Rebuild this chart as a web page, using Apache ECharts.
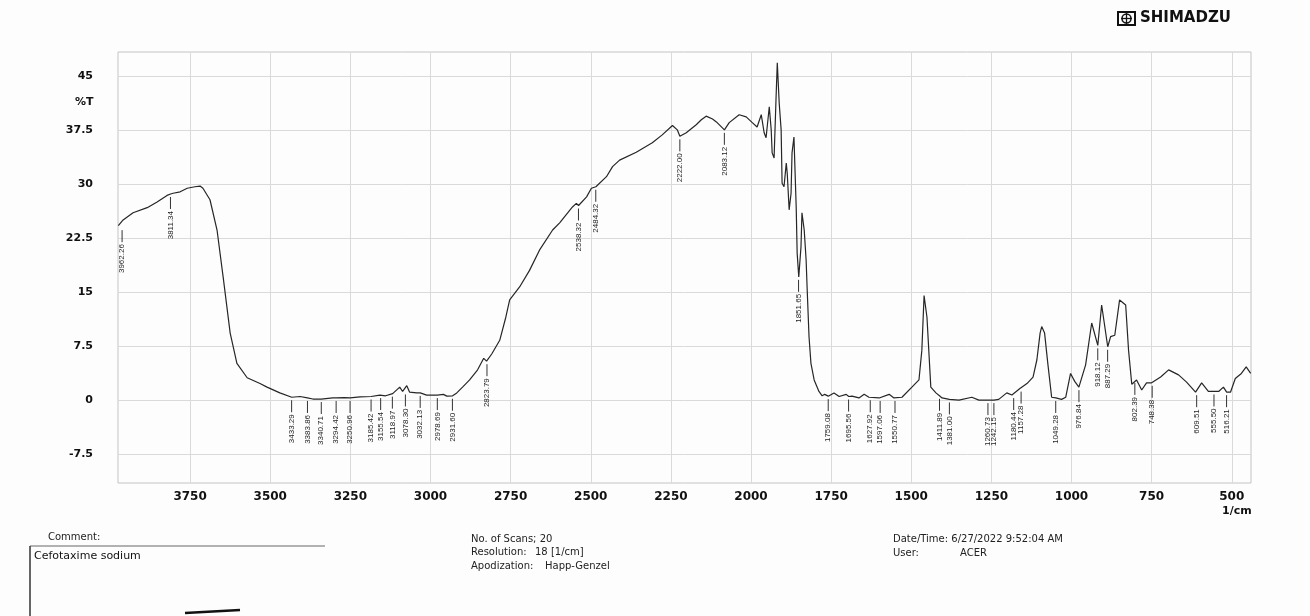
<!DOCTYPE html>
<html lang="en" style="height: 100%">
<head>
    <meta charset="UTF-8">
    <script src="https://cdn.jsdelivr.net/npm/echarts@6/dist/echarts.min.js"></script>
</head>
<body style="height: 100%; margin: 0; background: #fdfdfd">
<div id="container" style="width: 1310px; height: 616px"></div>
<script>
// spectrum (1/cm, %T)
var wavenumber = [3974, 3968, 3959, 3928, 3884, 3853, 3822, 3811, 3803, 3781, 3759, 3735, 3719, 3710, 3688, 3666, 3647, 3625, 3604, 3572,
    3532, 3510, 3470, 3433, 3407, 3384, 3367, 3341, 3305, 3294, 3270, 3251, 3220, 3185, 3158, 3140, 3118, 3096, 3087, 3074,
    3065, 3043, 3032, 3012, 2979, 2960, 2949, 2931, 2918, 2900, 2878, 2853, 2834, 2825, 2809, 2784, 2765, 2753, 2722, 2691,
    2660, 2619, 2597, 2557, 2545, 2538, 2513, 2498, 2484, 2451, 2432, 2410, 2358, 2308, 2277, 2245, 2230, 2222, 2202, 2171,
    2155, 2140, 2120, 2108, 2083, 2068, 2037, 2015, 1996, 1981, 1968, 1959, 1953, 1943, 1937, 1934, 1928, 1922, 1918, 1912,
    1906, 1903, 1897, 1890, 1887, 1881, 1875, 1872, 1866, 1859, 1856, 1851, 1844, 1841, 1834, 1828, 1825, 1819, 1813, 1803,
    1788, 1778, 1770, 1759, 1741, 1725, 1703, 1695, 1685, 1663, 1647, 1632, 1600, 1569, 1554, 1529, 1498, 1476, 1467, 1460,
    1451, 1439, 1423, 1412, 1404, 1381, 1351, 1311, 1289, 1261, 1242, 1227, 1202, 1186, 1180, 1161, 1139, 1120, 1108, 1098,
    1093, 1084, 1074, 1062, 1049, 1031, 1018, 1003, 990, 977, 956, 937, 918, 906, 887, 878, 865, 850, 831, 822,
    812, 797, 781, 766, 750, 722, 697, 666, 641, 613, 594, 573, 555, 541, 526, 516, 504, 489, 470, 455, 441];
var transmittance = [24.2, 24.0, 25.0, 26.0, 26.7, 27.5, 28.4, 28.6, 28.7, 28.9, 29.4, 29.6, 29.7, 29.4, 27.8, 23.6, 17.1, 9.3, 5.1, 3.1,
    2.3, 1.8, 1.0, 0.4, 0.5, 0.3, 0.15, 0.15, 0.3, 0.3, 0.35, 0.3, 0.45, 0.5, 0.7, 0.6, 0.9, 1.8, 1.2, 2.0,
    1.1, 1.0, 1.0, 0.7, 0.7, 0.8, 0.55, 0.6, 1.0, 1.8, 2.8, 4.2, 5.8, 5.4, 6.4, 8.3, 11.5, 13.9, 15.7, 18.0,
    20.8, 23.6, 24.6, 26.8, 27.3, 27.0, 28.2, 29.4, 29.6, 31.0, 32.4, 33.3, 34.4, 35.7, 36.8, 38.1, 37.5, 36.6, 37.1, 38.2,
    38.9, 39.4, 39.0, 38.6, 37.5, 38.5, 39.6, 39.3, 38.5, 37.9, 39.6, 37.1, 36.4, 40.7, 37.5, 34.3, 33.6, 41.7, 46.8, 41.2,
    37.5, 30.1, 29.6, 32.9, 31.5, 26.4, 28.7, 34.3, 36.5, 26.8, 20.4, 17.1, 21.3, 26.0, 23.6, 19.4, 15.7, 8.8, 5.1, 2.8,
    1.2, 0.6, 0.8, 0.55, 1.0, 0.5, 0.8, 0.5, 0.55, 0.3, 0.8, 0.4, 0.3, 0.8, 0.3, 0.4, 1.8, 2.8, 6.9, 14.5,
    11.5, 1.8, 1.0, 0.6, 0.3, 0.1, 0.0, 0.4, 0.0, 0.0, 0.0, 0.1, 1.0, 0.7, 0.7, 1.6, 2.3, 3.2, 5.6, 9.3,
    10.2, 9.3, 5.1, 0.4, 0.3, 0.1, 0.4, 3.7, 2.6, 1.8, 4.9, 10.7, 7.6, 13.2, 7.4, 8.8, 9.0, 13.9, 13.2, 6.9,
    2.2, 2.8, 1.4, 2.4, 2.4, 3.2, 4.2, 3.5, 2.5, 1.1, 2.4, 1.2, 1.2, 1.2, 1.8, 1.1, 1.1, 3.0, 3.7, 4.6, 3.7];

// picked peaks and the %T where their marker starts
var peakWave = [3962.26, 3811.34, 3433.29, 3383.86, 3340.71, 3294.42, 3250.96, 3185.42, 3155.54, 3118.97,
    3078.30, 3032.13, 2978.69, 2931.60, 2823.79, 2538.32, 2484.32, 2222.00, 2083.12, 1851.65,
    1759.08, 1695.56, 1627.92, 1597.06, 1550.77, 1411.89, 1381.00, 1260.73, 1242.15, 1180.44,
    1157.28, 1049.28, 976.84, 918.12, 887.29, 802.39, 748.38, 609.51, 555.50, 516.21];
var peakT = [24.0, 28.6, 0.4, 0.3, 0.15, 0.3, 0.3, 0.5, 0.7, 0.9,
    1.2, 1.0, 0.7, 0.6, 5.4, 27.0, 29.6, 36.6, 37.5, 17.1,
    0.55, 0.5, 0.4, 0.3, 0.3, 0.6, 0.1, 0.0, 0.0, 0.7,
    1.6, 0.3, 1.8, 7.6, 7.4, 2.8, 2.4, 1.1, 1.2, 1.1];

var xTicks = [500, 750, 1000, 1250, 1500, 1750, 2000, 2250, 2500, 2750, 3000, 3250, 3500, 3750];
var yTicks = [-7.5, 0, 7.5, 15, 22.5, 30, 37.5, 45];

var spectrum = wavenumber.map(function (w, i) { return [w, transmittance[i]]; });
var peaks = peakWave.map(function (w, i) { return [w, peakT[i]]; });

var dom = document.getElementById("container");
var myChart = echarts.init(dom);
var labelFont = 'DejaVu Sans';
var infoStyle = { fill: '#222', fontSize: 10, fontFamily: labelFont };

var option = {
    backgroundColor: '#fdfdfd',
    animation: false,
    grid: {
        left: 118, right: 59, top: 52, bottom: 133,
        show: true, borderColor: '#c4c4c4', borderWidth: 1
    },
    xAxis: {
        type: 'value', inverse: true, min: 440, max: 3975,
        axisLine: { show: false },
        axisTick: { show: false, customValues: xTicks },
        axisLabel: {
            customValues: xTicks, margin: 8,
            formatter: function (v) { return String(v); },
            color: '#111', fontSize: 12, fontWeight: 'bold', fontFamily: labelFont
        },
        splitLine: { show: true, lineStyle: { color: '#dadada', width: 1 } }
    },
    yAxis: {
        type: 'value', min: -11.5, max: 48.3,
        axisLine: { show: false },
        axisTick: { show: false, customValues: yTicks },
        axisLabel: {
            customValues: yTicks, margin: 25,
            color: '#111', fontSize: 11, fontWeight: 'bold', fontFamily: labelFont
        },
        splitLine: { show: true, lineStyle: { color: '#dadada', width: 1 } }
    },
    series: [
        {
            type: 'line',
            data: spectrum,
            showSymbol: false,
            lineStyle: { color: '#262626', width: 1.2 },
            z: 3
        },
        {
            type: 'custom',
            data: peaks,
            silent: true,
            z: 4,
            renderItem: function (params, api) {
                var p = api.coord([api.value(0), api.value(1)]);
                return {
                    type: 'group',
                    children: [
                        {
                            type: 'line',
                            shape: { x1: p[0], y1: p[1] + 3, x2: p[0], y2: p[1] + 15 },
                            style: { stroke: '#333', lineWidth: 1 }
                        },
                        {
                            type: 'text',
                            x: p[0], y: p[1] + 17,
                            rotation: Math.PI / 2,
                            style: {
                                text: api.value(0).toFixed(2),
                                fontSize: 8, fontFamily: 'Liberation Sans',
                                fill: '#1e1e1e', align: 'right', verticalAlign: 'middle'
                            }
                        }
                    ]
                };
            }
        }
    ],
    graphic: [
        // SHIMADZU logo
        { type: 'rect', shape: { x: 1118, y: 12, width: 17, height: 13 }, style: { fill: 'none', stroke: '#111', lineWidth: 2 } },
        { type: 'circle', shape: { cx: 1126.5, cy: 18.5, r: 4.5 }, style: { fill: 'none', stroke: '#111', lineWidth: 1.5 } },
        { type: 'line', shape: { x1: 1121, y1: 18.5, x2: 1132, y2: 18.5 }, style: { stroke: '#111', lineWidth: 1.3 } },
        { type: 'line', shape: { x1: 1126.5, y1: 13, x2: 1126.5, y2: 24 }, style: { stroke: '#111', lineWidth: 1.3 } },
        { type: 'text', left: 1140, top: 11, style: { text: 'SHIMADZU', fill: '#111', fontSize: 15, fontWeight: 900, fontFamily: labelFont } },

        { type: 'text', left: 75, top: 97, style: { text: '%T', fill: '#111', fontSize: 11, fontWeight: 'bold', fontFamily: labelFont } },
        { type: 'text', left: 1222, top: 506, style: { text: '1/cm', fill: '#111', fontSize: 11, fontWeight: 'bold', fontFamily: labelFont } },

        // footer
        { type: 'text', left: 48, top: 532, style: Object.assign({ text: 'Comment:' }, infoStyle) },
        { type: 'line', shape: { x1: 30, y1: 546, x2: 325, y2: 546 }, style: { stroke: '#666', lineWidth: 1 } },
        { type: 'line', shape: { x1: 30, y1: 546, x2: 30, y2: 616 }, style: { stroke: '#333', lineWidth: 1.5 } },
        { type: 'text', left: 34, top: 551, style: { text: 'Cefotaxime sodium', fill: '#111', fontSize: 11, fontFamily: labelFont } },
        { type: 'text', left: 471, top: 534, style: Object.assign({ text: 'No. of Scans; 20' }, infoStyle) },
        { type: 'text', left: 471, top: 547, style: Object.assign({ text: 'Resolution:' }, infoStyle) },
        { type: 'text', left: 535, top: 547, style: Object.assign({ text: '18 [1/cm]' }, infoStyle) },
        { type: 'text', left: 471, top: 561, style: Object.assign({ text: 'Apodization:' }, infoStyle) },
        { type: 'text', left: 545, top: 561, style: Object.assign({ text: 'Happ-Genzel' }, infoStyle) },
        { type: 'text', left: 893, top: 534, style: Object.assign({ text: 'Date/Time: 6/27/2022 9:52:04 AM' }, infoStyle) },
        { type: 'text', left: 893, top: 548, style: Object.assign({ text: 'User:' }, infoStyle) },
        { type: 'text', left: 960, top: 548, style: Object.assign({ text: 'ACER' }, infoStyle) },
        { type: 'line', shape: { x1: 185, y1: 613, x2: 240, y2: 610 }, style: { stroke: '#111', lineWidth: 2.5 } }
    ]
};

myChart.setOption(option);
</script>
</body>
</html>
